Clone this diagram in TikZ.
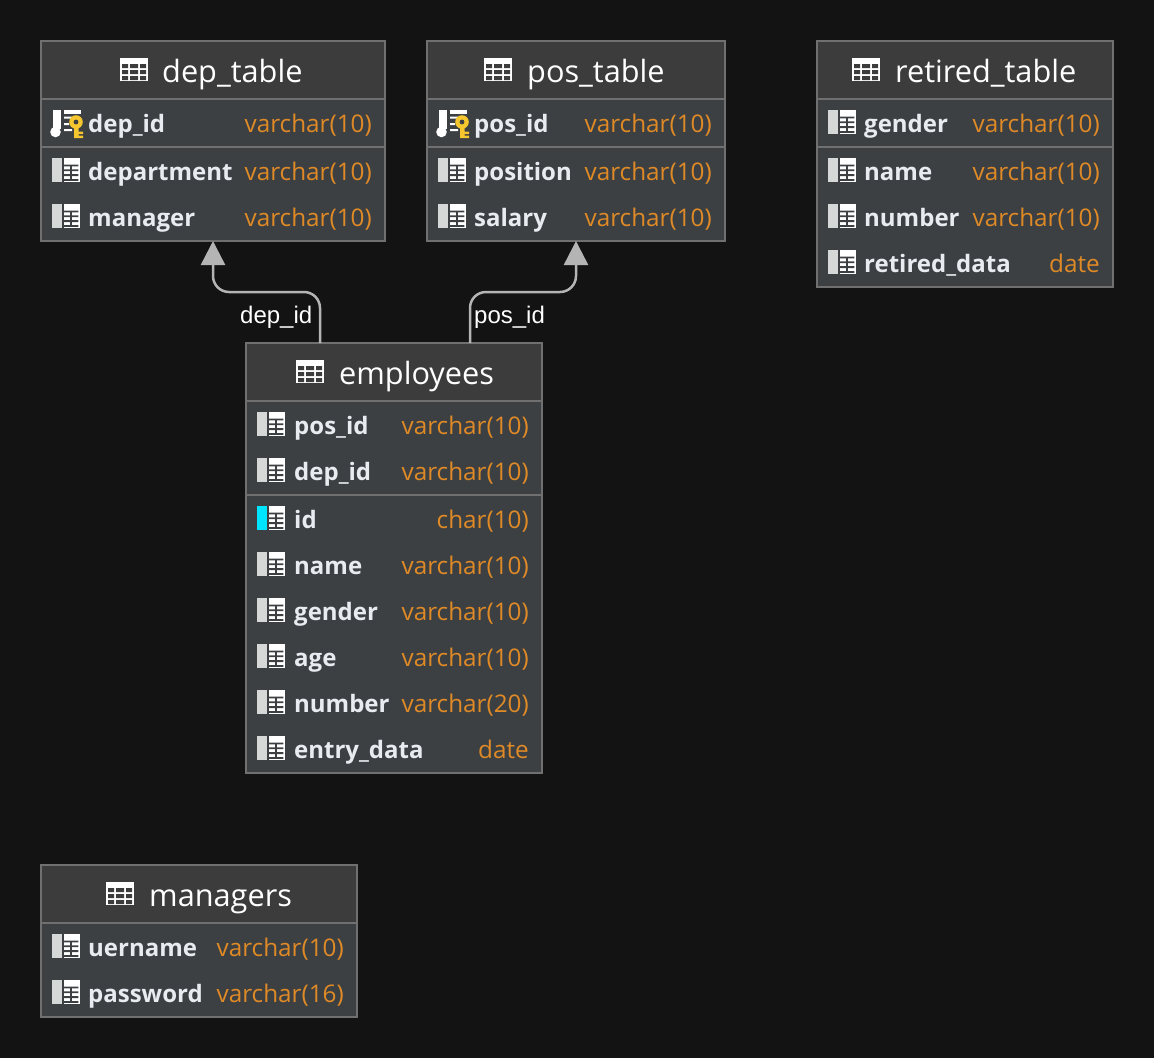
\documentclass[tikz,border=0pt]{standalone}
\usepackage{fontspec}
\setmainfont{Open Sans}
\newfontfamily\edgefont{Liberation Sans}
\usetikzlibrary{arrows.meta,calc}
\definecolor{bgc}{HTML}{131313}
\definecolor{headc}{HTML}{3C3C3C}
\definecolor{bodyc}{HTML}{3C4043}
\definecolor{linec}{HTML}{707070}
\definecolor{conc}{HTML}{B4B4B4}
\definecolor{namec}{HTML}{E8ECF0}
\definecolor{typec}{HTML}{DF8A26}
\definecolor{barc}{HTML}{D6D8D8}
\definecolor{cyanc}{HTML}{00E5FF}
\definecolor{keyc}{HTML}{F5C62E}
\tikzset{
  tablebox/.style={draw=linec,line width=1.5pt,fill=bodyc,anchor=north west,inner sep=0pt,outer sep=0pt},
  headbox/.style={fill=headc,anchor=north west,inner sep=0pt,outer sep=0pt},
  rulel/.style={draw=linec,line width=2pt},
  titletext/.style={anchor=base west,inner sep=0pt,text=white,font=\fontsize{30.7}{30.7}\selectfont},
  nametext/.style={anchor=base west,inner sep=0pt,text=namec,font=\fontsize{24}{24}\selectfont\bfseries},
  typetext/.style={anchor=base east,inner sep=0pt,text=typec,font=\fontsize{24.3}{24.3}\selectfont},
  edgetext/.style={inner sep=0pt,text=white,anchor=base west,font=\edgefont\fontsize{24}{24}\selectfont},
  connector/.style={draw=conc,line width=2.5pt,rounded corners=16pt,-{Triangle[length=24pt,width=24pt,fill=conc]}},
}
\newcount\rowno
\def\namex{47}
\newcommand{\gridglyph}[3]{%
  \begin{scope}[shift={(#1,#2)}]
    \fill[#3] (0,-13) rectangle (10,10.7);
    \fill[white] (12,-13) rectangle (28,10.7);
    \fill[bodyc] (12,-6.5) rectangle (26.3,-4.7) (12,-1.7) rectangle (26.3,0.1)
                 (12,3.2) rectangle (26.3,5) (12,8) rectangle (26.3,9.8);
    \fill[bodyc] (18,-6.5) rectangle (19.6,9.8);
  \end{scope}}
\newcommand{\keyglyph}[2]{%
  \begin{scope}[shift={(#1,#2)}]
    \fill[white] (1,-13) rectangle (9,6);
    \fill[white] (3.5,9) circle (5.3);
    \fill[white] (12,-13) rectangle (28.5,-9);
    \fill[white] (12,-6.5) rectangle (20,-4.5) (12,0) rectangle (17,2) (12,6) rectangle (20,8);
    \fill[keyc] (24,-1) circle (6.8);
    \fill[keyc] (22,3) rectangle (26.5,15) (26,8.5) rectangle (31,11) (26,12.5) rectangle (31,15);
    \fill[bodyc] (24,-1) circle (2.4);
  \end{scope}}
\newcommand{\titleglyph}[2]{%
  \begin{scope}[shift={(#1,#2)}]
    \fill[white] (0,0) rectangle (28,23);
    \foreach \yy in {6,12,18} {
      \fill[headc] (2,\yy) rectangle (8,\yy+4) (10,\yy) rectangle (18,\yy+4) (20,\yy) rectangle (26,\yy+4);
    }
  \end{scope}}
\newcommand{\dbtable}[9]{%
  \pgfmathsetlengthmacro{\tabw}{#4-#2}\pgfmathsetlengthmacro{\tabh}{#5-#3}\pgfmathsetlengthmacro{\headh}{#6-#3}%
  \node[tablebox,minimum width=\tabw,minimum height=\tabh] (#1) at (#2,#3) {};
  \node[headbox,minimum width=\tabw,minimum height=\headh] (#1head) at (#2,#3) {};
  \draw[linec,line width=1.5pt] (#1.north west) rectangle (#1.south east);
  \draw[rulel] (#1head.south west) -- (#1head.south east);
  \titleglyph{#8}{#3+17}
  \node[titletext] (#1title) at (#9,#3+41) {#7};
}
\newcommand{\dbrow}[6]{%
  \global\advance\rowno by 1
  \def\kind{#6}\def\kk{k}\def\cc{c}%
  \ifx\kind\kk \keyglyph{#1+11}{#3}\else
  \ifx\kind\cc \gridglyph{#1+11}{#3}{cyanc}\else
  \gridglyph{#1+11}{#3}{barc}\fi\fi
  \node[nametext] (n\the\rowno) at (#1+\namex,#3+9) {#4};
  \node[typetext] (y\the\rowno) at (#2-13,#3+9) {#5};
}
\begin{document}
\begin{tikzpicture}[x=1pt,y=-1pt]
\useasboundingbox (0,0) rectangle (1154,1058);
\fill[bgc] (0,0) rectangle (1154,1058);

\dbtable{dep}{41}{41}{385}{241}{99}{dep\_table}{120}{162}
\dbrow{41}{385}{123}{dep\_id}{varchar(10)}{k}
\draw[rulel] (41,147) -- (385,147);
\dbrow{41}{385}{171}{department}{varchar(10)}{g}
\dbrow{41}{385}{217}{manager}{varchar(10)}{g}

\dbtable{pos}{427}{41}{725}{241}{99}{pos\_table}{484}{527}
\dbrow{427}{725}{123}{pos\_id}{varchar(10)}{k}
\draw[rulel] (427,147) -- (725,147);
\dbrow{427}{725}{171}{position}{varchar(10)}{g}
\dbrow{427}{725}{217}{salary}{varchar(10)}{g}

\dbtable{ret}{817}{41}{1113}{287}{99}{retired\_table}{852}{895}
\dbrow{817}{1113}{123}{gender}{varchar(10)}{g}
\draw[rulel] (817,147) -- (1113,147);
\dbrow{817}{1113}{171}{name}{varchar(10)}{g}
\dbrow{817}{1113}{217}{number}{varchar(10)}{g}
\dbrow{817}{1113}{263}{retired\_data}{date}{g}

\dbtable{emp}{246}{343}{542}{773}{401}{employees}{296}{339}
\def\namex{48}
\dbrow{246}{542}{425}{pos\_id}{varchar(10)}{g}
\dbrow{246}{542}{471}{dep\_id}{varchar(10)}{g}
\draw[rulel] (246,495) -- (542,495);
\dbrow{246}{542}{519}{id}{char(10)}{c}
\dbrow{246}{542}{565}{name}{varchar(10)}{g}
\dbrow{246}{542}{611}{gender}{varchar(10)}{g}
\dbrow{246}{542}{657}{age}{varchar(10)}{g}
\dbrow{246}{542}{703}{number}{varchar(20)}{g}
\dbrow{246}{542}{749}{entry\_data}{date}{g}
\def\namex{47}

\dbtable{man}{41}{865}{357}{1017}{923}{managers}{106}{149}
\dbrow{41}{357}{947}{uername}{varchar(10)}{g}
\dbrow{41}{357}{993}{password}{varchar(16)}{g}

\coordinate (empA) at ($(emp.north west)+(74,0)$);
\coordinate (empB) at ($(emp.north west)+(224,0)$);
\coordinate (depT) at ($(dep.south west)+(172,0)$);
\coordinate (posT) at ($(pos.south west)+(149,0)$);
\coordinate (midY) at (0,292);
\draw[connector] (empA) -- (empA |- midY) -- (depT |- midY) -- (depT);
\draw[connector] (empB) -- (empB |- midY) -- (posT |- midY) -- (posT);
\node[edgetext] (lab1) at (240,323) {dep\_id};
\node[edgetext] (lab2) at (474,323) {pos\_id};
\end{tikzpicture}
\end{document}
